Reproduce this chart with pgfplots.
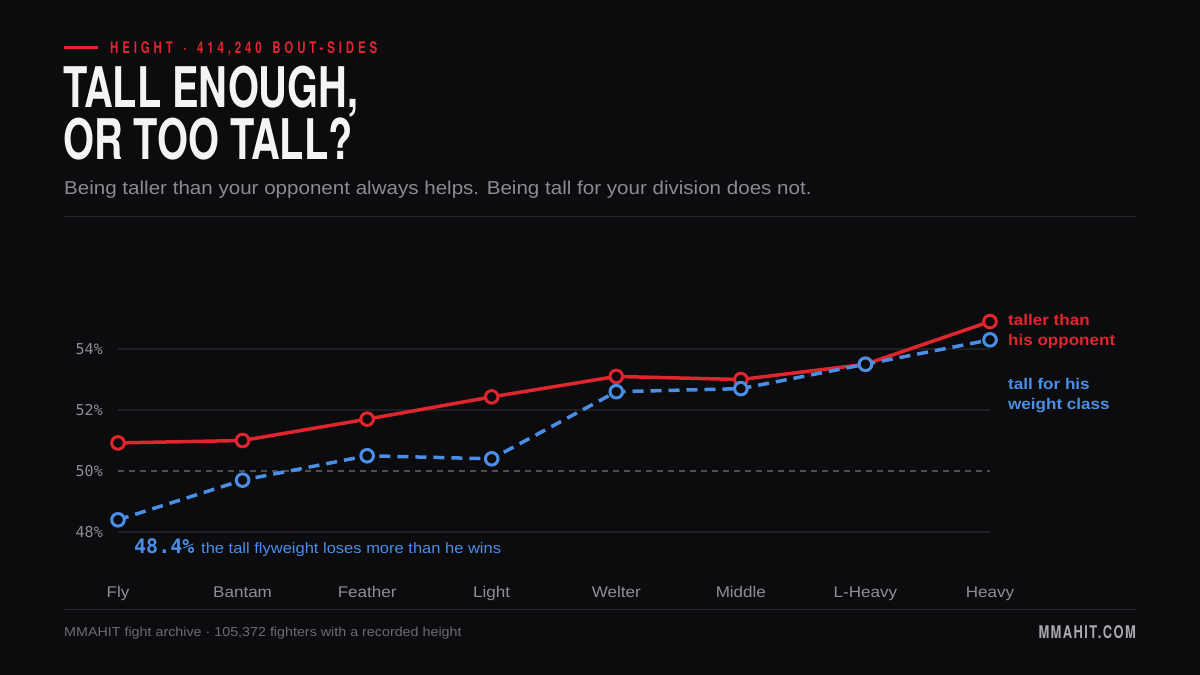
\documentclass[border=0pt]{standalone}
\usepackage{fontspec}
\usepackage{pgfplots}
\pgfplotsset{compat=1.18}
\setmainfont[FakeStretch=1.1]{Liberation Sans}
\newfontfamily\condfont[FakeStretch=0.71]{TeX Gyre Heros}
\newfontfamily\kickfont[FakeStretch=0.72,LetterSpace=24]{TeX Gyre Heros}
\newfontfamily\brandfont[FakeStretch=0.74,LetterSpace=8]{TeX Gyre Heros}
\newfontfamily\monofont{DejaVu Sans Mono}
\definecolor{bg}{HTML}{0C0C0F}
\definecolor{titlec}{HTML}{F4F4F6}
\definecolor{subc}{HTML}{8B8B92}
\definecolor{tickc}{HTML}{8E8E94}
\definecolor{footc}{HTML}{6B6B72}
\definecolor{brandc}{HTML}{A8A8AD}
\definecolor{gridc}{HTML}{1F1F23}
\definecolor{sepc}{HTML}{25252A}
\definecolor{midc}{HTML}{4E4E54}
\definecolor{kred}{HTML}{E0252E}
\definecolor{kblue}{HTML}{4A8EE6}
\begin{document}
\begin{tikzpicture}[x=1pt,y=1pt]
\fill[bg] (0,0) rectangle (1200,675);
\useasboundingbox (0,0) rectangle (1200,675);
% header
\draw[kred, line width=3pt] (64,675-47.5) -- (98,675-47.5);
\node[anchor=west, inner sep=0pt, text=kred] at (110,675-48.5) {\kickfont\bfseries\fontsize{16}{16}\selectfont HEIGHT\hspace{3.5pt} ·\hspace{3.5pt} 414,240\hspace{3.5pt} BOUT-SIDES};
\node[anchor=base west, inner sep=0pt, text=titlec, align=left, font=\condfont\bfseries\fontsize{56}{48}\selectfont] at (63,675-160) {TALL ENOUGH,\\OR TOO TALL?};
\node[anchor=base west, inner sep=0pt, text=subc] at (64,675-195) {\fontsize{18.7}{18.7}\selectfont Being taller than your opponent always helps. Being tall for your division does not.};
\draw[sepc, line width=1pt] (64,675-217) -- (1136,675-217);
\draw[sepc, line width=1pt] (64,675-610) -- (1136,675-610);
% footer
\node[anchor=base west, inner sep=0pt, text=footc] at (64,675-636.5) {\fontsize{13}{13}\selectfont MMAHIT fight archive · 105,372 fighters with a recorded height};
\node[anchor=base east, inner sep=0pt, text=brandc] at (1136,675-638.5) {\brandfont\bfseries\fontsize{17.5}{17.5}\selectfont MMAHIT.COM};
\begin{axis}[
  at={(118pt,143pt)}, anchor=south west,
  scale only axis, width=872pt, height=213.5pt,
  xmin=0, xmax=7, ymin=48, ymax=55, clip=false,
  axis line style={draw=none}, major tick length=0pt,
  xtick={0,1,2,3,4,5,6,7},
  xticklabels={Fly,Bantam,Feather,Light,Welter,Middle,L-Heavy,Heavy},
  ytick={48,50,52,54},
  yticklabels={48\%,50\%,52\%,54\%},
  xticklabel style={font=\fontsize{15.5}{15.5}\selectfont, text=tickc, anchor=base, inner sep=0pt, yshift=-65pt},
  yticklabel style={font=\monofont\fontsize{15}{15}\selectfont, text=tickc, anchor=east, inner sep=0pt, xshift=-15pt},
]
\draw[gridc, line width=1.3pt] (axis cs:0,48) -- (axis cs:7,48);
\draw[gridc, line width=1.3pt] (axis cs:0,52) -- (axis cs:7,52);
\draw[gridc, line width=1.3pt] (axis cs:0,54) -- (axis cs:7,54);
\draw[midc, line width=1.2pt, dash pattern=on 6pt off 5pt] (axis cs:0,50) -- (axis cs:7,50);
\addplot[kred, line width=3.5pt, mark=*, mark size=6.3pt, mark options={solid, fill=bg, draw=kred, line width=3pt}]
 coordinates {(0,50.92) (1,51.0) (2,51.7) (3,52.43) (4,53.1) (5,53.0) (6,53.5) (7,54.9)};
\addplot[kblue, line width=3.5pt, dash pattern=on 11pt off 7pt, mark=*, mark size=6.3pt, mark options={solid, fill=bg, draw=kblue, line width=3pt}]
 coordinates {(0,48.4) (1,49.7) (2,50.5) (3,50.4) (4,52.6) (5,52.7) (6,53.5) (7,54.3)};
\end{axis}
% annotations
\node[anchor=base west, inner sep=0pt, text=kblue] at (134,675-554) {\monofont\bfseries\fontsize{20}{20}\selectfont 48.4\%};
\node[anchor=base west, inner sep=0pt, text=kblue] at (201,675-554) {\fontsize{15}{15}\selectfont the tall flyweight loses more than he wins};
\node[anchor=west, inner sep=0pt, text=kred, align=left, font=\bfseries\fontsize{15.5}{20}\selectfont] at (1008,675-331) {taller than\\his opponent};
\node[anchor=west, inner sep=0pt, text=kblue, align=left, font=\bfseries\fontsize{15.5}{20}\selectfont] at (1008,675-396) {tall for his\\weight class};
\end{tikzpicture}
\end{document}
